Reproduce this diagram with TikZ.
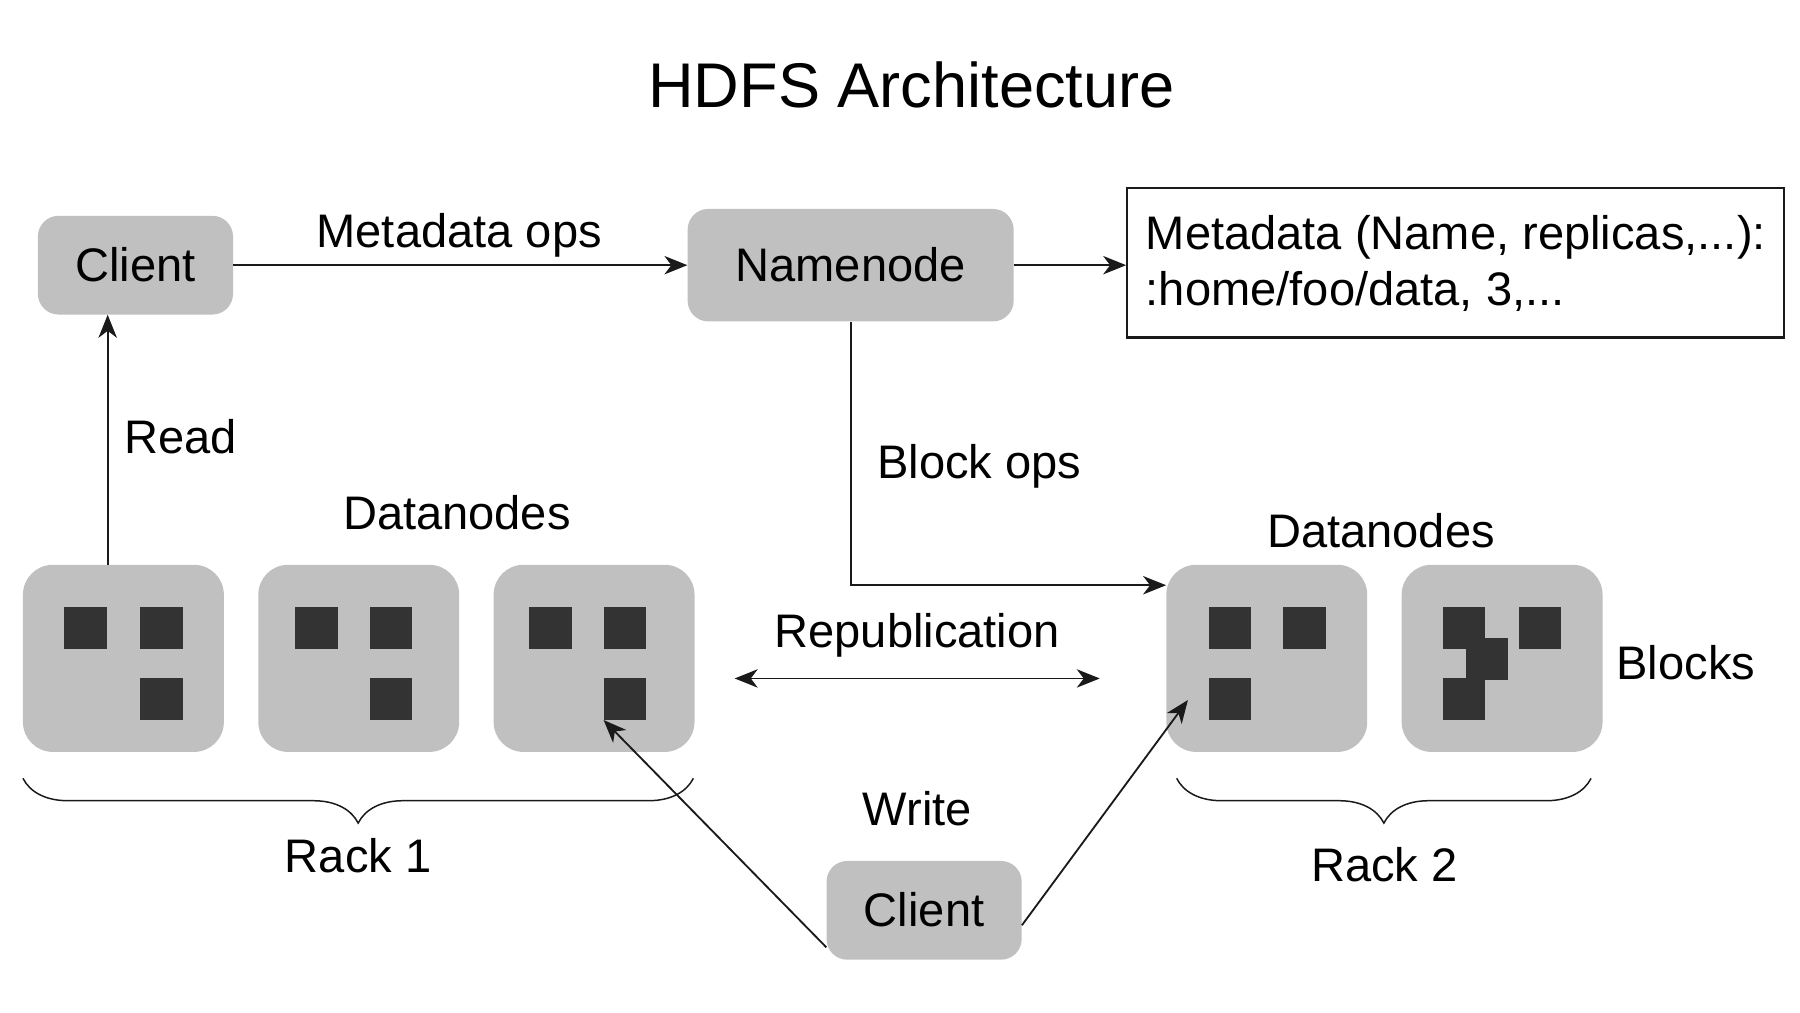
\documentclass[tikz,border=0pt]{standalone}
\usepackage{fontspec}
\setmainfont{Liberation Sans}
\usetikzlibrary{arrows.meta,decorations.pathreplacing}
\definecolor{boxgray}{HTML}{C0C0C0}
\definecolor{blockdark}{HTML}{333333}
\definecolor{linecol}{HTML}{1A1A1A}
\begin{document}
\begin{tikzpicture}[x=1pt,y=-1pt,
  gbox/.style={fill=boxgray, draw=none, rounded corners=18pt, inner sep=0pt, font=\fontsize{41}{49}\selectfont},
  dn/.style={fill=boxgray, draw=none, rounded corners=26pt, inner sep=0pt, minimum width=175pt, minimum height=163pt},
  blk/.style={fill=blockdark, draw=none, inner sep=0pt, minimum width=37pt, minimum height=36pt},
  lbl/.style={inner sep=0pt, font=\fontsize{41}{49}\selectfont},
  tip/.tip={Stealth[length=20pt,width=16pt,inset=6pt]},
  arr/.style={draw=linecol, line width=1.6pt, -tip},
  darr/.style={draw=linecol, line width=1.6pt, tip-tip},
  bracestyle/.style={draw=linecol, line width=1.3pt, decorate, decoration={brace, mirror, amplitude=39pt}}
]
\useasboundingbox (0,0) rectangle (1568,882);
% title
\node[inner sep=0pt, anchor=base, font=\fontsize{55}{60}\selectfont] (title) at (794,94) {HDFS Architecture};
% top row
\node[gbox, minimum width=170pt, minimum height=86pt] (client1) at (118,231) {\raisebox{2pt}{Client}};
\node[gbox, minimum width=284pt, minimum height=98pt] (namenode) at (741,231) {\raisebox{2pt}{Namenode}};
\node[draw=linecol, line width=2pt, fill=white, minimum width=572pt, minimum height=130pt, inner sep=0pt] (meta) at (1268,229) {};
\node[lbl, anchor=base west] (meta1) at (998,217) {Metadata (Name, replicas,...):};
\node[lbl, anchor=base west] (meta2) at (998,266) {:home/foo/data, 3,...};
\node[lbl, anchor=base] (mdops) at (400,216) {Metadata ops};
% datanodes
\node[dn] (dn1) at (107.5,573.5) {};
\node[dn] (dn2) at (312.5,573.5) {};
\node[dn] (dn3) at (517.5,573.5) {};
\node[dn] (dn4) at (1103.5,573.5) {};
\node[dn] (dn5) at (1308.5,573.5) {};
% blocks
\node[blk] (b1a) at (74.5,547) {};
\node[blk] (b1b) at (140.5,547) {};
\node[blk] (b1c) at (140.5,609) {};
\node[blk] (b2a) at (275.5,547) {};
\node[blk] (b2b) at (340.5,547) {};
\node[blk] (b2c) at (340.5,609) {};
\node[blk] (b3a) at (479.5,547) {};
\node[blk] (b3b) at (544.5,547) {};
\node[blk] (b3c) at (544.5,609) {};
\node[blk] (b4a) at (1071.5,547) {};
\node[blk] (b4b) at (1136.5,547) {};
\node[blk] (b4c) at (1071.5,609) {};
\node[blk] (b5a) at (1275.5,547) {};
\node[blk] (b5b) at (1341.5,547) {};
\node[blk] (b5m) at (1295.5,574) {};
\node[blk] (b5c) at (1275.5,609) {};
% bottom client
\node[gbox, minimum width=170pt, minimum height=86pt] (client2) at (805,793) {\raisebox{2pt}{Client}};
% labels
\node[lbl, anchor=base west] (readlbl) at (108,395) {Read};
\node[lbl, anchor=base west] (blkops) at (764,417) {Block ops};
\node[lbl, anchor=base] (dnl) at (398,461) {Datanodes};
\node[lbl, anchor=base] (dnr) at (1203,477) {Datanodes};
\node[lbl, anchor=base] (repl) at (799,564) {Republication};
\node[lbl, anchor=base west] (blocks) at (1408,592) {Blocks};
\node[lbl, anchor=base] (write) at (799,719) {Write};
\node[lbl, anchor=base] (rack1) at (312,760) {Rack 1};
\node[lbl, anchor=base] (rack2) at (1206,768) {Rack 2};
% connectors
\draw[arr] (client1) -- (namenode);
\draw[arr] (namenode.east) -- (namenode.east -| meta.west);
\draw[arr] ([xshift=74pt]dn1.north west) -- ([xshift=74pt]dn1.north west |- client1.south);
\draw[arr] (namenode.south) |- ([yshift=-18pt]dn4.north west);
\coordinate (repL) at (640,591);
\coordinate (repR) at (958,591);
\draw[darr] (repL) -- (repR);
\draw[arr] ([yshift=11pt]client2.south west) -- (b3c.south west);
\draw[arr] ([yshift=-13pt]client2.east) -- ([xshift=19pt,yshift=-118pt]dn4.north west);
% braces
\draw[bracestyle] (20,678) -- (604,678);
\draw[bracestyle] (1025,678) -- (1386,678);
\end{tikzpicture}
\end{document}
